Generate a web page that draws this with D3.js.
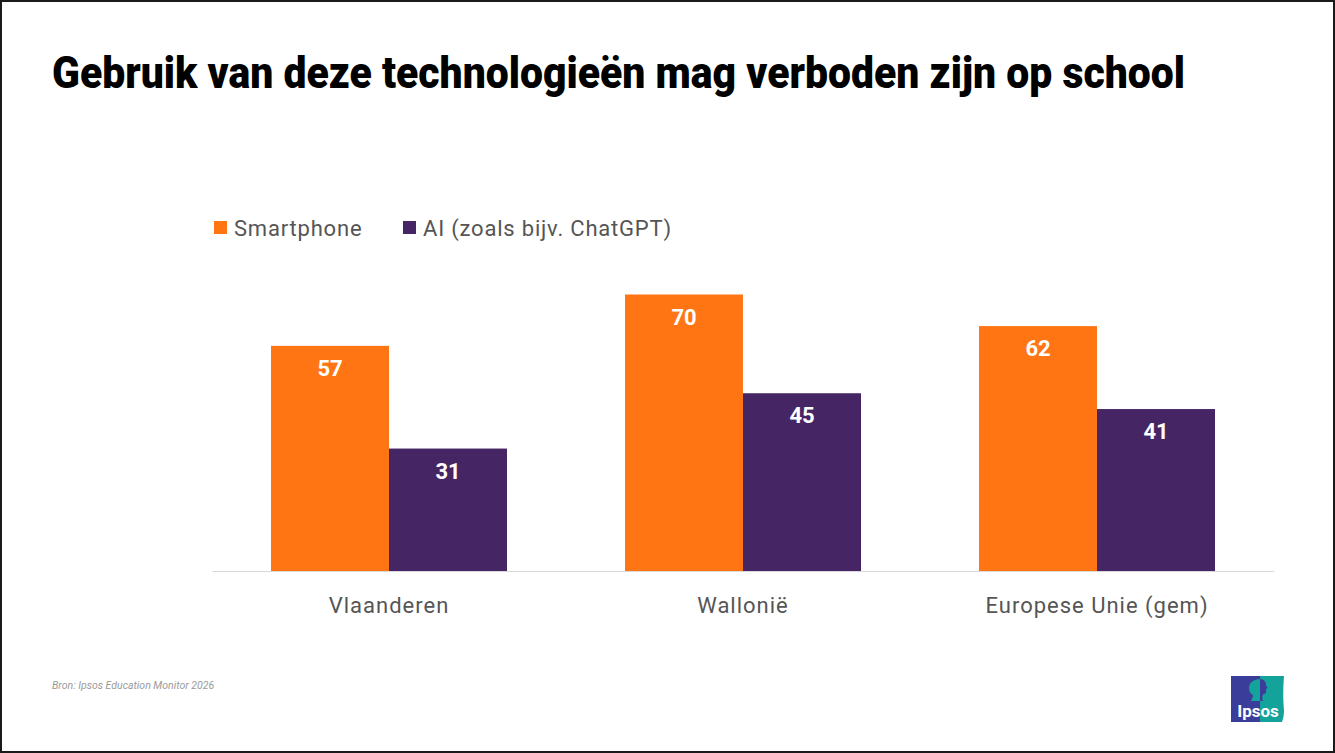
<!DOCTYPE html>
<html>
<head>
<meta charset="utf-8">
<script src="https://cdn.jsdelivr.net/npm/d3@7"></script>
<style>
  html, body { margin: 0; padding: 0; background: #fff; }
  svg { display: block; }
</style>
</head>
<body>
<div id="chart"></div>
<script>
// chart data
var categories = ['Vlaanderen', 'Wallonië', 'Europese Unie (gem)'];
var seriesNames = ['Smartphone', 'AI (zoals bijv. ChatGPT)'];
var smartphone = [57, 70, 62];
var ai = [31, 45, 41];
var colors = ['#FF7514', '#462565'];

var width = 1335, height = 753;

var svg = d3.select('#chart').append('svg')
  .attr('width', width)
  .attr('height', height);

// frame round the slide
svg.append('rect')
  .attr('x', 1).attr('y', 1)
  .attr('width', width - 2).attr('height', height - 2)
  .style('fill', '#fff')
  .style('stroke', '#1a1a1a')
  .style('stroke-width', 2);

// title
svg.append('text')
  .attr('x', 52).attr('y', 88)
  .attr('textLength', 1133)
  .attr('lengthAdjust', 'spacingAndGlyphs')
  .style('font-family', 'Roboto, sans-serif')
  .style('font-weight', 900)
  .style('font-size', '44px')
  .style('fill', '#000')
  .text('Gebruik van deze technologieën mag verboden zijn op school');

// scales
var x0 = d3.scaleBand().domain(categories).range([212, 1274]).padding(0);
var x1 = d3.scaleBand().domain(seriesNames).range([59, x0.bandwidth() - 59]).padding(0);
var y = d3.scaleLinear().domain([0, 100]).range([571, 176]);

var rows = categories.map(function(c, i) {
  return { cat: c, vals: [smartphone[i], ai[i]] };
});

var groups = svg.selectAll('g.group')
  .data(rows)
  .enter().append('g')
  .attr('class', 'group')
  .attr('transform', function(d) { return 'translate(' + x0(d.cat) + ',0)'; });

var bars = groups.selectAll('g.bar')
  .data(function(d) {
    return d.vals.map(function(v, j) { return { name: seriesNames[j], value: v, j: j }; });
  })
  .enter().append('g')
  .attr('class', 'bar');

bars.append('rect')
  .attr('x', function(d) { return x1(d.name); })
  .attr('y', function(d) { return y(d.value); })
  .attr('width', x1.bandwidth())
  .attr('height', function(d) { return y(0) - y(d.value); })
  .style('fill', function(d) { return colors[d.j]; });

bars.append('text')
  .attr('x', function(d) { return x1(d.name) + x1.bandwidth() / 2; })
  .attr('y', function(d) { return y(d.value) + 30; })
  .attr('text-anchor', 'middle')
  .style('font-family', 'Roboto, sans-serif')
  .style('font-weight', 700)
  .style('font-size', '22px')
  .style('fill', '#fff')
  .text(function(d) { return d.value; });

// baseline axis
var xAxis = svg.append('g')
  .attr('transform', 'translate(0,' + y(0) + ')')
  .call(d3.axisBottom(x0).tickSize(0).tickPadding(26));

xAxis.select('.domain').style('stroke', '#d9d9d9').style('stroke-width', 1.2);
xAxis.selectAll('text')
  .style('font-family', 'Roboto, sans-serif')
  .style('font-size', '22px')
  .style('letter-spacing', '1px')
  .style('fill', '#555');

// legend
var legend = svg.append('g').attr('transform', 'translate(214,221)');
var legendX = [0, 189];
var items = legend.selectAll('g.item')
  .data(seriesNames)
  .enter().append('g')
  .attr('transform', function(d, i) { return 'translate(' + legendX[i] + ',0)'; });

items.append('rect')
  .attr('width', 13).attr('height', 13)
  .style('fill', function(d, i) { return colors[i]; });

items.append('text')
  .attr('x', 20).attr('y', 15)
  .style('font-family', 'Roboto, sans-serif')
  .style('font-size', '22px')
  .style('letter-spacing', '0.8px')
  .style('fill', '#555')
  .text(function(d) { return d; });

// source note
svg.append('text')
  .attr('x', 52).attr('y', 689)
  .style('font-family', 'Roboto, sans-serif')
  .style('font-style', 'italic')
  .style('font-size', '10.5px')
  .style('fill', '#9a9a9a')
  .text('Bron: Ipsos Education Monitor 2026');

// Ipsos logo
var logo = svg.append('g').attr('transform', 'translate(1231,676)');
logo.append('rect')
  .attr('width', 29).attr('height', 46)
  .style('fill', '#3A3D9A');
logo.append('path')
  .attr('d', 'M29,0 L53,0 C52,12 52,24 53,34 C53,40 52,43 51,46 L29,46 Z')
  .style('fill', '#14A39B');
// head: back half teal on blue, face half blue on teal
logo.append('path')
  .attr('d', 'M29,3 C24,3 18,6 18,12 C18,16 20,18 22,19 C22,21 21,23 20,25 L29,25 Z')
  .style('fill', '#14A39B');
logo.append('path')
  .attr('d', 'M29,3 C33,3 35,6 35,9 L36.5,12 L35,13 C35.5,15 34.5,16 35,17 C34,18 33,18 32,18.5 C31,20.5 31,23 32,25 L29,25 Z')
  .style('fill', '#3A3D9A');
logo.append('text')
  .attr('x', 27).attr('y', 41)
  .attr('text-anchor', 'middle')
  .style('font-family', 'Roboto, sans-serif')
  .style('font-weight', 700)
  .style('font-size', '17px')
  .style('fill', '#fff')
  .text('Ipsos');
</script>
</body>
</html>
